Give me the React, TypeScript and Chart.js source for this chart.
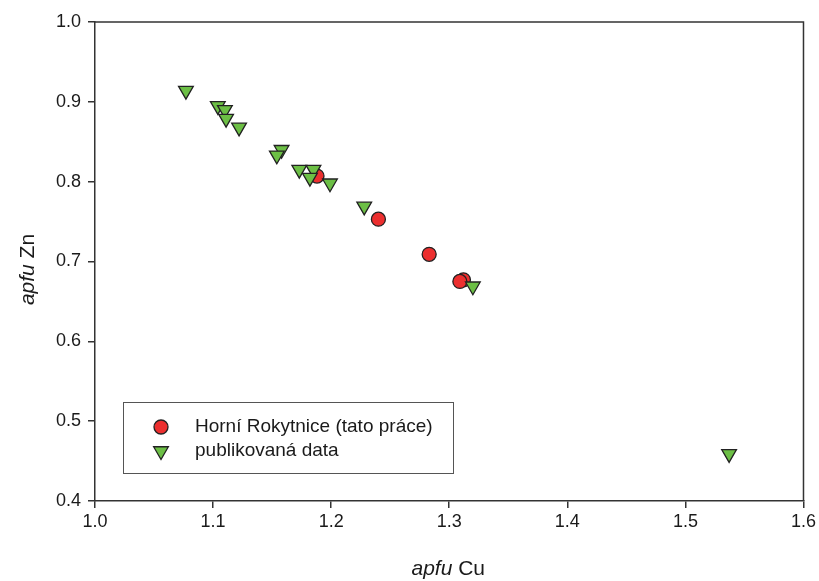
import React, { useEffect, useRef } from "react";
import { Chart, registerables } from "chart.js";

Chart.register(...registerables);

const seriesNames = ["Horní Rokytnice (tato práce)", "publikovaná data"];

const rokytniceCu = [1.188, 1.240, 1.283, 1.312, 1.309];
const rokytniceZn = [0.807, 0.753, 0.709, 0.677, 0.675];

const publishedCu = [1.077, 1.104, 1.110, 1.111, 1.122, 1.158, 1.154, 1.173, 1.185, 1.182, 1.199, 1.228, 1.320, 1.537];
const publishedZn = [0.914, 0.895, 0.890, 0.879, 0.868, 0.840, 0.833, 0.815, 0.815, 0.805, 0.798, 0.769, 0.669, 0.459];

const xTitle = ["apfu", " Cu"];
const yTitle = ["apfu", " Zn"];

const RED = "#ec2f2f";
const GREEN = "#6cbf45";
const FONT = "'Liberation Sans', Arial, sans-serif";

function drawMarker(ctx: CanvasRenderingContext2D, style: string, x: number, y: number, r: number, fill: string) {
  ctx.save();
  ctx.beginPath();
  if (style === "circle") {
    ctx.arc(x, y, r, 0, Math.PI * 2);
  } else {
    ctx.moveTo(x, y + r);
    ctx.lineTo(x - r * Math.sin(Math.PI / 3), y - r / 2);
    ctx.lineTo(x + r * Math.sin(Math.PI / 3), y - r / 2);
    ctx.closePath();
  }
  ctx.fillStyle = fill;
  ctx.fill();
  ctx.lineWidth = 1.3;
  ctx.strokeStyle = "#222";
  ctx.stroke();
  ctx.restore();
}

const decorPlugin = {
  id: "decor",
  afterDraw(chart: any) {
    const ctx: CanvasRenderingContext2D = chart.ctx;
    const a = chart.chartArea;
    ctx.save();
    ctx.strokeStyle = "#333";
    ctx.lineWidth = 1.5;
    ctx.beginPath();
    ctx.moveTo(a.left, a.top);
    ctx.lineTo(a.right, a.top);
    ctx.lineTo(a.right, a.bottom);
    ctx.stroke();

    ctx.fillStyle = "#1a1a1a";
    ctx.textBaseline = "middle";
    const drawMixed = (parts: string[], cx: number, cy: number) => {
      ctx.font = `italic 21px ${FONT}`;
      const w1 = ctx.measureText(parts[0]).width;
      ctx.font = `21px ${FONT}`;
      const w2 = ctx.measureText(parts[1]).width;
      const start = cx - (w1 + w2) / 2;
      ctx.textAlign = "left";
      ctx.font = `italic 21px ${FONT}`;
      ctx.fillText(parts[0], start, cy);
      ctx.font = `21px ${FONT}`;
      ctx.fillText(parts[1], start + w1, cy);
    };
    drawMixed(xTitle, (a.left + a.right) / 2 - 1, 569);
    ctx.save();
    ctx.translate(28, (a.top + a.bottom) / 2 + 8);
    ctx.rotate(-Math.PI / 2);
    drawMixed(yTitle, 0, 0);
    ctx.restore();

    const lx = a.left + 28;
    const ly = a.top + 380;
    const lw = 330;
    const lh = 71;
    ctx.fillStyle = "#fff";
    ctx.fillRect(lx, ly, lw, lh);
    ctx.strokeStyle = "#555";
    ctx.lineWidth = 1;
    ctx.strokeRect(lx + 0.5, ly + 0.5, lw, lh);
    const styles = ["circle", "triangle"];
    const fills = [RED, GREEN];
    const radii = [7, 8.5];
    ctx.font = `19px ${FONT}`;
    ctx.textAlign = "left";
    ctx.textBaseline = "middle";
    seriesNames.forEach((name, i) => {
      const yy = ly + 25 + i * 24;
      drawMarker(ctx, styles[i], lx + 38, yy, radii[i], fills[i]);
      ctx.fillStyle = "#1a1a1a";
      ctx.fillText(name, lx + 72, yy);
    });
    ctx.restore();
  },
};

export default function App() {
  const ref = useRef<HTMLCanvasElement | null>(null);
  useEffect(() => {
    document.body.style.margin = "0";
    const canvas = ref.current!;
    const chart = new Chart(canvas, {
      type: "scatter",
      data: {
        datasets: [
          {
            label: seriesNames[1],
            data: publishedCu.map((x, i) => ({ x, y: publishedZn[i] })),
            pointStyle: "triangle",
            rotation: 180,
            radius: 8.5,
            backgroundColor: GREEN,
            borderColor: "#222",
            borderWidth: 1.3,
          } as any,
          {
            label: seriesNames[0],
            data: rokytniceCu.map((x, i) => ({ x, y: rokytniceZn[i] })),
            pointStyle: "circle",
            radius: 7,
            backgroundColor: RED,
            borderColor: "#222",
            borderWidth: 1.3,
          } as any,
        ],
      },
      options: {
        animation: false,
        responsive: false,
        layout: { padding: { left: 0, top: 22, right: 13, bottom: 0 } },
        plugins: { legend: { display: false }, tooltip: { enabled: false } },
        scales: {
          x: {
            type: "linear",
            min: 1.0,
            max: 1.6,
            ticks: {
              stepSize: 0.1,
              padding: 3,
              color: "#1a1a1a",
              font: { family: FONT, size: 18 },
              callback: (v: any) => Number(v).toFixed(1),
            },
            grid: { drawOnChartArea: false, drawTicks: true, tickLength: 7, color: "#333", lineWidth: 1.5 },
            border: { display: true, color: "#333", width: 1.5 },
            afterFit: (s: any) => { s.height = 80; },
          },
          y: {
            type: "linear",
            min: 0.4,
            max: 1.0,
            ticks: {
              stepSize: 0.1,
              padding: 7,
              color: "#1a1a1a",
              font: { family: FONT, size: 18 },
              callback: (v: any) => Number(v).toFixed(1),
            },
            grid: { drawOnChartArea: false, drawTicks: true, tickLength: 7, color: "#333", lineWidth: 1.5 },
            border: { display: true, color: "#333", width: 1.5 },
            afterFit: (s: any) => { s.width = 95; },
          },
        },
      } as any,
      plugins: [decorPlugin],
    });
    return () => chart.destroy();
  }, []);
  return (
    <div style={{ position: "fixed", left: 0, top: 0, width: 819, height: 581, background: "#fff" }}>
      <canvas ref={ref} width={819} height={581} style={{ width: 819, height: 581 }} />
    </div>
  );
}
